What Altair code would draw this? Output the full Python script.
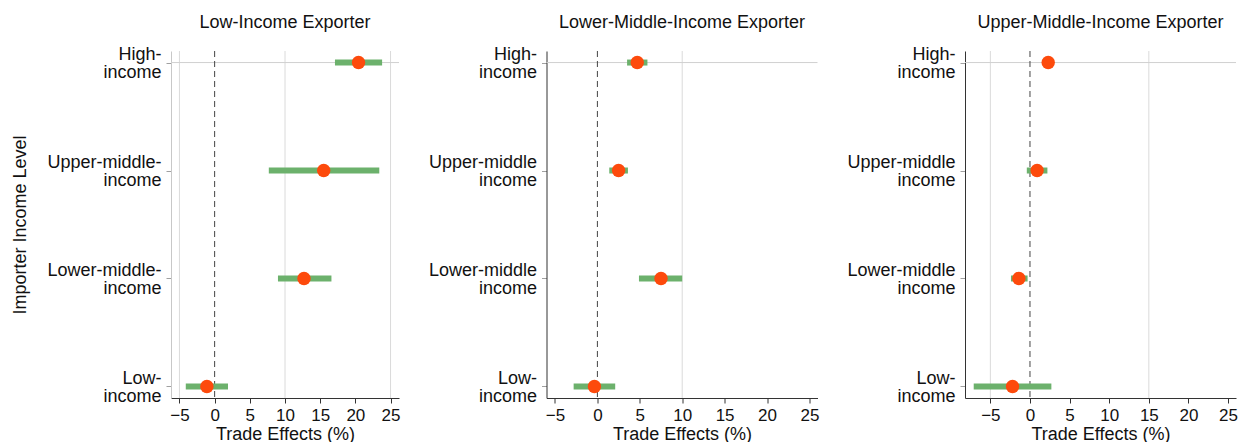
import altair as alt
import pandas as pd

levels = ["High", "Upper-middle", "Lower-middle", "Low"]

titles = ["Low-Income Exporter", "Lower-Middle-Income Exporter", "Upper-Middle-Income Exporter"]

labels_p1 = [["High-", "income"], ["Upper-middle-", "income"], ["Lower-middle-", "income"], ["Low-", "income"]]
labels_p23 = [["High-", "income"], ["Upper-middle", "income"], ["Lower-middle", "income"], ["Low-", "income"]]

est_p1 = [20.45, 15.5, 12.7, -1.1]
lo_p1 = [17.1, 7.7, 9.0, -4.1]
hi_p1 = [23.8, 23.4, 16.6, 1.9]

est_p2 = [4.7, 2.5, 7.5, -0.35]
lo_p2 = [3.5, 1.4, 4.9, -2.8]
hi_p2 = [5.9, 3.6, 10.0, 2.1]

est_p3 = [2.3, 0.9, -1.4, -2.2]
lo_p3 = [1.6, -0.4, -2.4, -7.1]
hi_p3 = [3.0, 2.2, -0.3, 2.7]

x_ticks = [-5, 0, 5, 10, 15, 20, 25]
grid_p1 = [-5, 10, 25]
grid_p2 = [10]
grid_p3 = [-5, 15]

domains = [[-6.2, 26.2], [-6.0, 25.95], [-8.2, 26.0]]
widths = [228, 271, 271]
HEIGHT = 347

GREEN = "#6cb16c"
RED = "#fd4a0c"
FONT = "Liberation Sans"


def label_expr(labels):
    expr = "''"
    for lev, lab in reversed(list(zip(levels, labels))):
        arr = "[" + ",".join("'" + s + "'" for s in lab) + "]"
        expr = f"datum.value == '{lev}' ? {arr} : ({expr})"
    return expr


def panel(i, est, lo, hi, grid, labels, ydomain_color, show_ytitle):
    df = pd.DataFrame({"level": levels, "est": est, "lo": lo, "hi": hi})
    gdf = pd.DataFrame({"g": grid})
    xscale = alt.Scale(domain=domains[i], nice=False, zero=False)
    yscale = alt.Scale(type="point", domain=levels, padding=0.107)

    yaxis_kwargs = dict(
        labelExpr=label_expr(labels),
        labelLineHeight=18,
        labelFontSize=18,
        labelAlign="right",
        labelBaseline="middle",
        labelOffset=-8,
        labelPadding=5,
        tickSize=5,
        tickColor="#a0a0a0",
        domainColor=ydomain_color,
        grid=False,
        titleFontSize=18,
        titleFontWeight="normal",
        titlePadding=17,
        labelColor="#111111",
        titleColor="#111111",
    )
    if show_ytitle:
        y = alt.Y("level:N", scale=yscale, sort=levels,
                  axis=alt.Axis(title="Importer Income Level", **yaxis_kwargs))
    else:
        y = alt.Y("level:N", scale=yscale, sort=levels, title=None,
                  axis=alt.Axis(**yaxis_kwargs))

    xaxis = alt.Axis(
        title="Trade Effects (%)",
        values=x_ticks,
        grid=False,
        tickSize=5,
        tickColor="#333333",
        domainColor="#333333",
        labelFontSize=17,
        labelPadding=4,
        labelOverlap=False,
        labelFlush=False,
        titleFontSize=18,
        titleFontWeight="normal",
        titlePadding=2,
        labelColor="#111111",
        titleColor="#111111",
    )

    gridrules = alt.Chart(gdf).mark_rule(color="#dadada", strokeWidth=1).encode(
        x=alt.X("g:Q", scale=xscale, axis=xaxis)
    )
    hline = alt.Chart(df).transform_filter(alt.datum.level == levels[0]).mark_rule(
        color="#d0d0d0", strokeWidth=1
    ).encode(y=y)
    zero = alt.Chart(df).transform_filter(alt.datum.level == levels[0]).mark_rule(
        color="#444444", strokeWidth=1, strokeDash=[6, 4]
    ).encode(x=alt.XDatum(0, type="quantitative", scale=xscale, axis=xaxis))
    bars = alt.Chart(df).mark_rule(color=GREEN, strokeWidth=6, strokeCap="butt").encode(
        x=alt.X("lo:Q", scale=xscale, axis=xaxis), x2="hi:Q", y=y
    )
    pts = alt.Chart(df).mark_circle(color=RED, opacity=1, size=180).encode(
        x=alt.X("est:Q", scale=xscale, axis=xaxis), y=y
    )
    return alt.layer(gridrules, hline, zero, bars, pts).properties(
        width=widths[i],
        height=HEIGHT,
        title=alt.TitleParams(
            titles[i], fontSize=18, fontWeight="normal", anchor="middle",
            frame="group", baseline="alphabetic", offset=0, color="#111111",
        ),
    )


p1 = panel(0, est_p1, lo_p1, hi_p1, grid_p1, labels_p1, "#c8c8c8", True)
p2 = panel(1, est_p2, lo_p2, hi_p2, grid_p2, labels_p23, "#333333", False)
p3 = panel(2, est_p3, lo_p3, hi_p3, grid_p3, labels_p23, "#333333", False)

chart = alt.hconcat(p1, p2, p3, spacing=147.5, bounds="flush").properties(
    padding={"left": 11, "top": 13, "right": 5, "bottom": 0}
).configure(font=FONT).configure_view(stroke=None).configure_axisX(labelOverlap=False)

chart.save("out.html", embed_options={"renderer": "svg", "actions": False})
